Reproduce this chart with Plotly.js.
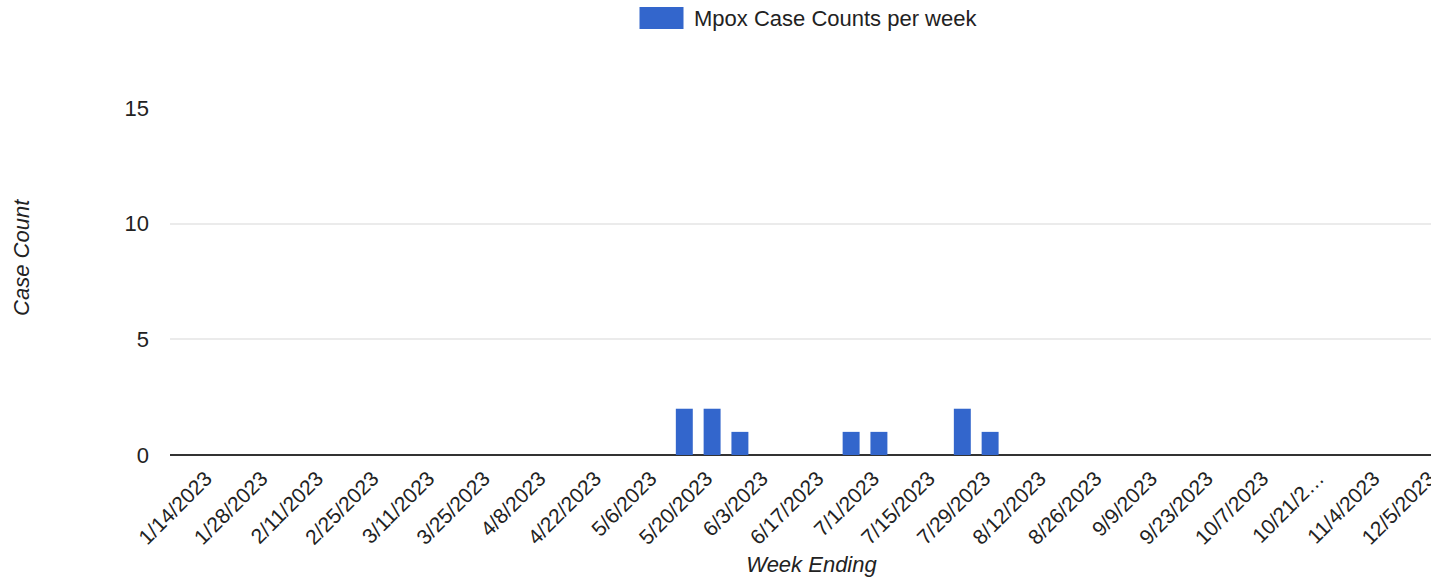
<!DOCTYPE html>
<html>
<head>
<meta charset="utf-8">
<script src="https://cdn.plot.ly/plotly-3.0.1.min.js"></script>
<style>
  html, body { margin: 0; padding: 0; overflow: hidden; background: #fff; }
</style>
</head>
<body>
<div id="mpoxChart"></div>
<script>
// week ending dates (category axis)
var weekEnding = [
    '1/14/2023', '1/21/2023', '1/28/2023', '2/4/2023', '2/11/2023', '2/18/2023', '2/25/2023',
    '3/4/2023', '3/11/2023', '3/18/2023', '3/25/2023', '4/1/2023', '4/8/2023', '4/15/2023',
    '4/22/2023', '4/29/2023', '5/6/2023', '5/13/2023', '5/20/2023', '5/27/2023', '6/3/2023',
    '6/10/2023', '6/17/2023', '6/24/2023', '7/1/2023', '7/8/2023', '7/15/2023', '7/22/2023',
    '7/29/2023', '8/5/2023', '8/12/2023', '8/19/2023', '8/26/2023', '9/2/2023', '9/9/2023',
    '9/16/2023', '9/23/2023', '9/30/2023', '10/7/2023', '10/14/2023', '10/21/2023', '10/28/2023',
    '11/4/2023', '11/11/2023', '12/5/2023'
];

var caseCounts = [
    0, 0, 0, 0, 0, 0, 0,
    0, 0, 0, 0, 0, 0, 0,
    0, 0, 0, 0, 2, 2, 1,
    0, 0, 0, 1, 1, 0, 0,
    2, 1, 0, 0, 0, 0, 0,
    0, 0, 0, 0, 0, 0, 0,
    0, 0, 0
];

// only every other week is labelled, one label is cut short
var shownWeeks = weekEnding.filter(function (d, i) { return i % 2 === 0; });
var shownLabels = [
    '1/14/2023', '1/28/2023', '2/11/2023', '2/25/2023', '3/11/2023', '3/25/2023', '4/8/2023',
    '4/22/2023', '5/6/2023', '5/20/2023', '6/3/2023', '6/17/2023', '7/1/2023', '7/15/2023',
    '7/29/2023', '8/12/2023', '8/26/2023', '9/9/2023', '9/23/2023', '10/7/2023', '10/21/2\u2026',
    '11/4/2023', '12/5/2023'
];

var yTicks = [0, 5, 10, 15];
var seriesName = 'Mpox Case Counts per week';
var barColor = '#3366cc';
var font = 'Arial, "Liberation Sans", sans-serif';

var trace1 = {
    type: 'bar',
    name: seriesName,
    x: weekEnding,
    y: caseCounts,
    marker: { color: barColor },
    hoverinfo: 'x+y'
};

var layout = {
    width: 1453,
    height: 577,
    margin: { l: 170, r: 0, t: 108, b: 122 },
    paper_bgcolor: '#fff',
    plot_bgcolor: '#fff',
    showlegend: false,
    bargap: 0.39,
    font: { family: font, size: 22, color: '#222' },
    xaxis: {
        type: 'category',
        range: [-0.5, 45.65],
        tickvals: shownWeeks,
        ticktext: shownLabels,
        tickangle: -45,
        ticks: '',
        showgrid: false,
        showline: false,
        zeroline: false,
        ticklabelshift: 22,
        ticklabelstandoff: 6,
        tickfont: { size: 21, color: '#222' },
        title: { text: 'Week Ending', font: { size: 22, color: '#222', style: 'italic' }, standoff: 16 },
        automargin: false
    },
    yaxis: {
        range: [0, 15],
        tickvals: yTicks,
        ticks: '',
        showline: false,
        gridcolor: '#ebebeb',
        gridwidth: 2,
        zeroline: true,
        zerolinecolor: '#333',
        zerolinewidth: 2,
        ticklabelstandoff: 20,
        tickfont: { size: 22, color: '#222' },
        automargin: false
    },
    // legend drawn as swatch + label above the plot
    shapes: [{
        type: 'rect',
        xref: 'paper', yref: 'paper',
        xsizemode: 'pixel', ysizemode: 'pixel',
        xanchor: 0.5, yanchor: 1,
        x0: -172, x1: -128, y0: 79, y1: 101,
        fillcolor: barColor,
        line: { width: 0 }
    }],
    annotations: [{
        xref: 'paper', yref: 'paper',
        x: 0.5, y: 1,
        xanchor: 'left', yanchor: 'middle',
        xshift: -120, yshift: 90,
        showarrow: false,
        text: seriesName,
        font: { size: 22, color: '#222' }
    }, {
        // y axis title, sits a little above the plot middle
        xref: 'paper', yref: 'paper',
        x: 0, y: 0.568,
        xanchor: 'center', yanchor: 'middle',
        xshift: -148,
        textangle: -90,
        showarrow: false,
        text: 'Case Count',
        font: { size: 22, color: '#222', style: 'italic' }
    }]
};

Plotly.newPlot('mpoxChart', [trace1], layout, { displayModeBar: false, staticPlot: true });
</script>
</body>
</html>
